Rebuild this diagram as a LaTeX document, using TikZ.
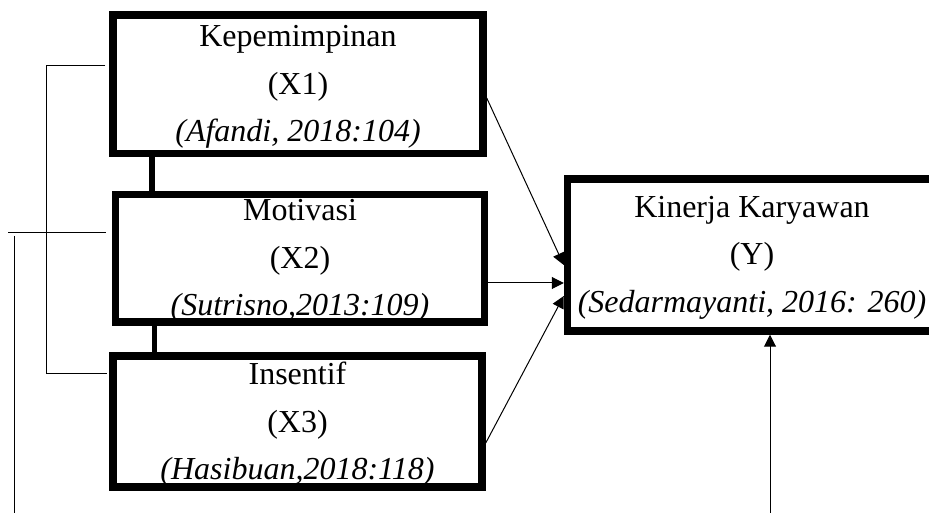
\documentclass[tikz,border=0pt]{standalone}
\usepackage{fontspec}
\setmainfont{Liberation Serif}
\usetikzlibrary{arrows.meta}
\begin{document}
\begin{tikzpicture}[x=0.75pt,y=-0.75pt,
 box/.style={draw, line width=5.6pt, rectangle, inner sep=0pt, align=center, text depth=1pt, font=\fontsize{24}{35.5}\selectfont},
 thinline/.style={line width=0.75pt},
 arr/.style={line width=0.75pt, -{Triangle[length=9pt,width=9pt]}},
 link/.style={line width=4.4pt}]
\useasboundingbox (0,0) rectangle (929,513);
\clip (0,0) rectangle (929,513);
\node[box, minimum width=277.5pt, minimum height=103.9pt] (X1) at (298,84.25)
  {Kepemimpinan\\(X1)\\\textit{(Afandi, 2018:104)}};
\node[box, minimum width=276.75pt, minimum height=95.6pt] (X2) at (300,258.25)
  {Motivasi\\(X2)\\\textit{(Sutrisno,2013:109)}};
\node[box, minimum width=276.75pt, minimum height=98.25pt] (X3) at (297.5,421.5)
  {Insentif\\(X3)\\\textit{(Hasibuan,2018:118)}};
\node[box, minimum width=276.75pt, minimum height=114pt] (Y) at (752,255)
  {Kinerja Karyawan\\(Y)\\\textit{(Sedarmayanti, 2016: 260)}};
% thick links
\coordinate (c1) at (152,0);
\coordinate (c2) at (154.5,0);
\draw[link] (X1.south -| c1) -- (X2.north -| c1);
\draw[link] (X2.south -| c2) -- (X3.north -| c2);
% arrows to Y
\coordinate (s1) at (0,98);
\coordinate (e1) at (0,265);
\coordinate (s2) at (0,283);
\coordinate (s3) at (0,443);
\coordinate (e3) at (0,296);
\draw[arr] (X1.east |- s1) -- (Y.west |- e1);
\draw[arr] (X2.east |- s2) -- (Y.west |- s2);
\draw[arr] (X3.east |- s3) -- (Y.west |- e3);
\coordinate (b) at (770,513);
\draw[arr] (b) -- (Y.south -| b);
% left bracket lines
\coordinate (v1t) at (46,66);
\coordinate (v1b) at (46,374);
\draw[thinline, shorten <=3pt, shorten >=1.5pt] (X1.west |- v1t) -- (v1t) -- (v1b) -- (X3.west |- v1b);
\coordinate (h2) at (8,233);
\draw[thinline, shorten >=4.3pt] (h2) -- (X2.west |- h2);
\coordinate (v2t) at (14,236);
\coordinate (v2b) at (14,513);
\draw[thinline] (v2t) -- (v2b);
\end{tikzpicture}
\end{document}
